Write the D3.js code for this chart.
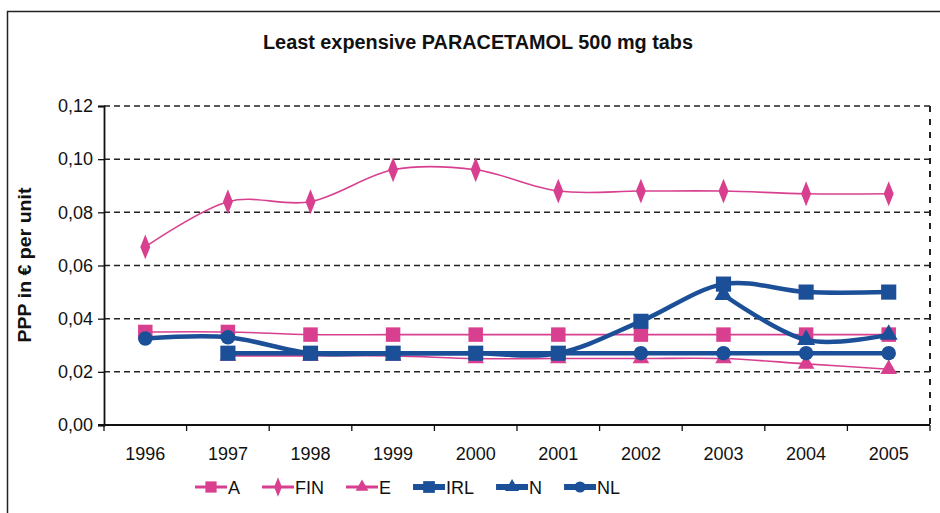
<!DOCTYPE html>
<html>
<head>
<meta charset="utf-8">
<script src="https://cdn.jsdelivr.net/npm/d3@7"></script>
<style>
  body { margin: 0; background: #fff; }
  text { font-family: "Liberation Sans", Arial, sans-serif; fill: #111; }
</style>
</head>
<body>
<div id="chart"></div>
<script>
// chart data
var years = ["1996", "1997", "1998", "1999", "2000", "2001", "2002", "2003", "2004", "2005"];
var yTicks = [0, 0.02, 0.04, 0.06, 0.08, 0.10, 0.12];

var valA   = [0.035, 0.035, 0.034, 0.034, 0.034, 0.034, 0.034, 0.034, 0.034, 0.034];
var valFIN = [0.067, 0.084, 0.084, 0.096, 0.096, 0.088, 0.088, 0.088, 0.087, 0.087];
var valE   = [null, 0.026, 0.026, 0.026, 0.025, 0.025, 0.025, 0.025, 0.023, 0.021];
var valIRL = [null, 0.027, 0.027, 0.027, 0.027, 0.027, 0.039, 0.053, 0.050, 0.050];
var valN   = [null, null, null, null, null, null, null, 0.049, 0.032, 0.034];
var valNL  = [0.0325, 0.033, 0.027, 0.027, 0.027, 0.027, 0.027, 0.027, 0.027, 0.027];

var pink = "#d8408f",
    blue = "#1b4f97";

var series = [
    {name: "A",   values: valA,   color: pink, width: 1.6, symbol: d3.symbolSquare,   size: 210},
    {name: "FIN", values: valFIN, color: pink, width: 1.6, symbol: d3.symbolDiamond,  size: 135},
    {name: "E",   values: valE,   color: pink, width: 1.6, symbol: d3.symbolTriangle, size: 120},
    {name: "IRL", values: valIRL, color: blue, width: 4.5, symbol: d3.symbolSquare,   size: 230},
    {name: "N",   values: valN,   color: blue, width: 4.5, symbol: d3.symbolTriangle, size: 140},
    {name: "NL",  values: valNL,  color: blue, width: 4.5, symbol: d3.symbolCircle,   size: 165}
];

var width = 940, height = 513;
var plot = {left: 104, right: 930, top: 106, bottom: 425};

var svg = d3.select("#chart").append("svg")
    .attr("width", width)
    .attr("height", height);

// outer frame
svg.append("rect")
    .attr("x", 7.5).attr("y", 11.5)
    .attr("width", 940).attr("height", 520)
    .attr("fill", "none").attr("stroke", "#222").attr("stroke-width", 1.5);

var x = d3.scaleBand().domain(years).range([plot.left, plot.right]);
var y = d3.scaleLinear().domain([0, 0.12]).range([plot.bottom, plot.top]);
var cx = function(i) { return x(years[i]) + x.bandwidth() / 2; };

// title
svg.append("text")
    .attr("x", 478).attr("y", 49)
    .attr("text-anchor", "middle")
    .attr("font-weight", "bold")
    .attr("font-size", 20)
    .attr("textLength", 430)
    .attr("lengthAdjust", "spacingAndGlyphs")
    .text("Least expensive PARACETAMOL 500 mg tabs");

// gridlines
svg.append("g").selectAll("line")
    .data(yTicks.filter(function(d) { return d > 0; }))
    .enter().append("line")
    .attr("x1", plot.left).attr("x2", plot.right)
    .attr("y1", function(d) { return y(d); })
    .attr("y2", function(d) { return y(d); })
    .attr("stroke", "#222").attr("stroke-width", 1.5)
    .attr("stroke-dasharray", "6,4");

// right border dashed
svg.append("line")
    .attr("x1", plot.right).attr("x2", plot.right)
    .attr("y1", plot.top).attr("y2", plot.bottom)
    .attr("stroke", "#222").attr("stroke-width", 2)
    .attr("stroke-dasharray", "6,7");

// y axis
var fmt = d3.format(".2f");
var yAxis = svg.append("g")
    .attr("transform", "translate(" + plot.left + ",0)")
    .call(d3.axisLeft(y).tickValues(yTicks).tickSize(6).tickPadding(5)
        .tickFormat(function(d) { return fmt(d).replace(".", ","); }));
yAxis.select(".domain").attr("stroke", "#111").attr("stroke-width", 1.8);
yAxis.selectAll(".tick line").attr("stroke", "#111").attr("stroke-width", 1.3);
yAxis.selectAll("text")
    .attr("font-size", 18)
    .attr("font-family", "Liberation Sans, Arial, sans-serif")
    .attr("fill", "#222");

// x axis: labels at centres, ticks at the category boundaries
var xAxis = svg.append("g")
    .attr("transform", "translate(0," + plot.bottom + ")")
    .call(d3.axisBottom(x).tickSize(0).tickPadding(22));
xAxis.select(".domain").remove();
xAxis.selectAll("text")
    .attr("font-size", 18)
    .attr("font-family", "Liberation Sans, Arial, sans-serif")
    .attr("fill", "#222");
svg.append("line")
    .attr("x1", plot.left - 6).attr("x2", plot.right)
    .attr("y1", plot.bottom).attr("y2", plot.bottom)
    .attr("stroke", "#111").attr("stroke-width", 1.8);
svg.append("g").selectAll("line")
    .data(d3.range(years.length + 1))
    .enter().append("line")
    .attr("x1", function(i) { return plot.left + i * x.bandwidth(); })
    .attr("x2", function(i) { return plot.left + i * x.bandwidth(); })
    .attr("y1", plot.bottom).attr("y2", plot.bottom + 6)
    .attr("stroke", "#111").attr("stroke-width", 1.3);

// y axis title
svg.append("text")
    .attr("transform", "translate(31,265) rotate(-90)")
    .attr("text-anchor", "middle")
    .attr("font-weight", "bold")
    .attr("font-size", 18)
    .attr("textLength", 155)
    .attr("lengthAdjust", "spacingAndGlyphs")
    .text("PPP in \u20ac per unit");

// series lines + markers
var line = d3.line()
    .defined(function(d) { return d != null; })
    .x(function(d, i) { return cx(i); })
    .y(function(d) { return y(d); })
    .curve(d3.curveCardinal);

series.forEach(function(s) {
    var g = svg.append("g").attr("class", "series");
    g.append("path")
        .attr("d", line(s.values))
        .attr("fill", "none")
        .attr("stroke", s.color)
        .attr("stroke-width", s.width)
        .attr("stroke-linejoin", "round");
    g.selectAll("path.marker")
        .data(s.values.map(function(v, i) { return {v: v, i: i}; })
            .filter(function(d) { return d.v != null; }))
        .enter().append("path")
        .attr("class", "marker")
        .attr("d", d3.symbol().type(s.symbol).size(s.size))
        .attr("transform", function(d) {
            var sy = s.symbol === d3.symbolDiamond ? "scale(0.8,1.15)" : "";
            return "translate(" + cx(d.i) + "," + y(d.v) + ")" + sy;
        })
        .attr("fill", s.color);
});

// legend
var legend = svg.append("g").attr("transform", "translate(0,487)");
var lx = 195;
series.forEach(function(s) {
    var item = legend.append("g").attr("transform", "translate(" + lx + ",0)");
    item.append("line")
        .attr("x1", 0).attr("x2", 32)
        .attr("stroke", s.color)
        .attr("stroke-width", s.color === pink ? 3 : 6);
    item.append("path")
        .attr("d", d3.symbol().type(s.symbol).size(s.size * 0.6))
        .attr("transform", "translate(16,0)" + (s.symbol === d3.symbolDiamond ? "scale(0.8,1.15)" : ""))
        .attr("fill", s.color);
    var t = item.append("text")
        .attr("x", 33).attr("y", 6.5)
        .attr("font-size", 18)
        .attr("fill", "#222")
        .text(s.name);
    lx += 33 + t.node().getComputedTextLength() + 22;
});
</script>
</body>
</html>
